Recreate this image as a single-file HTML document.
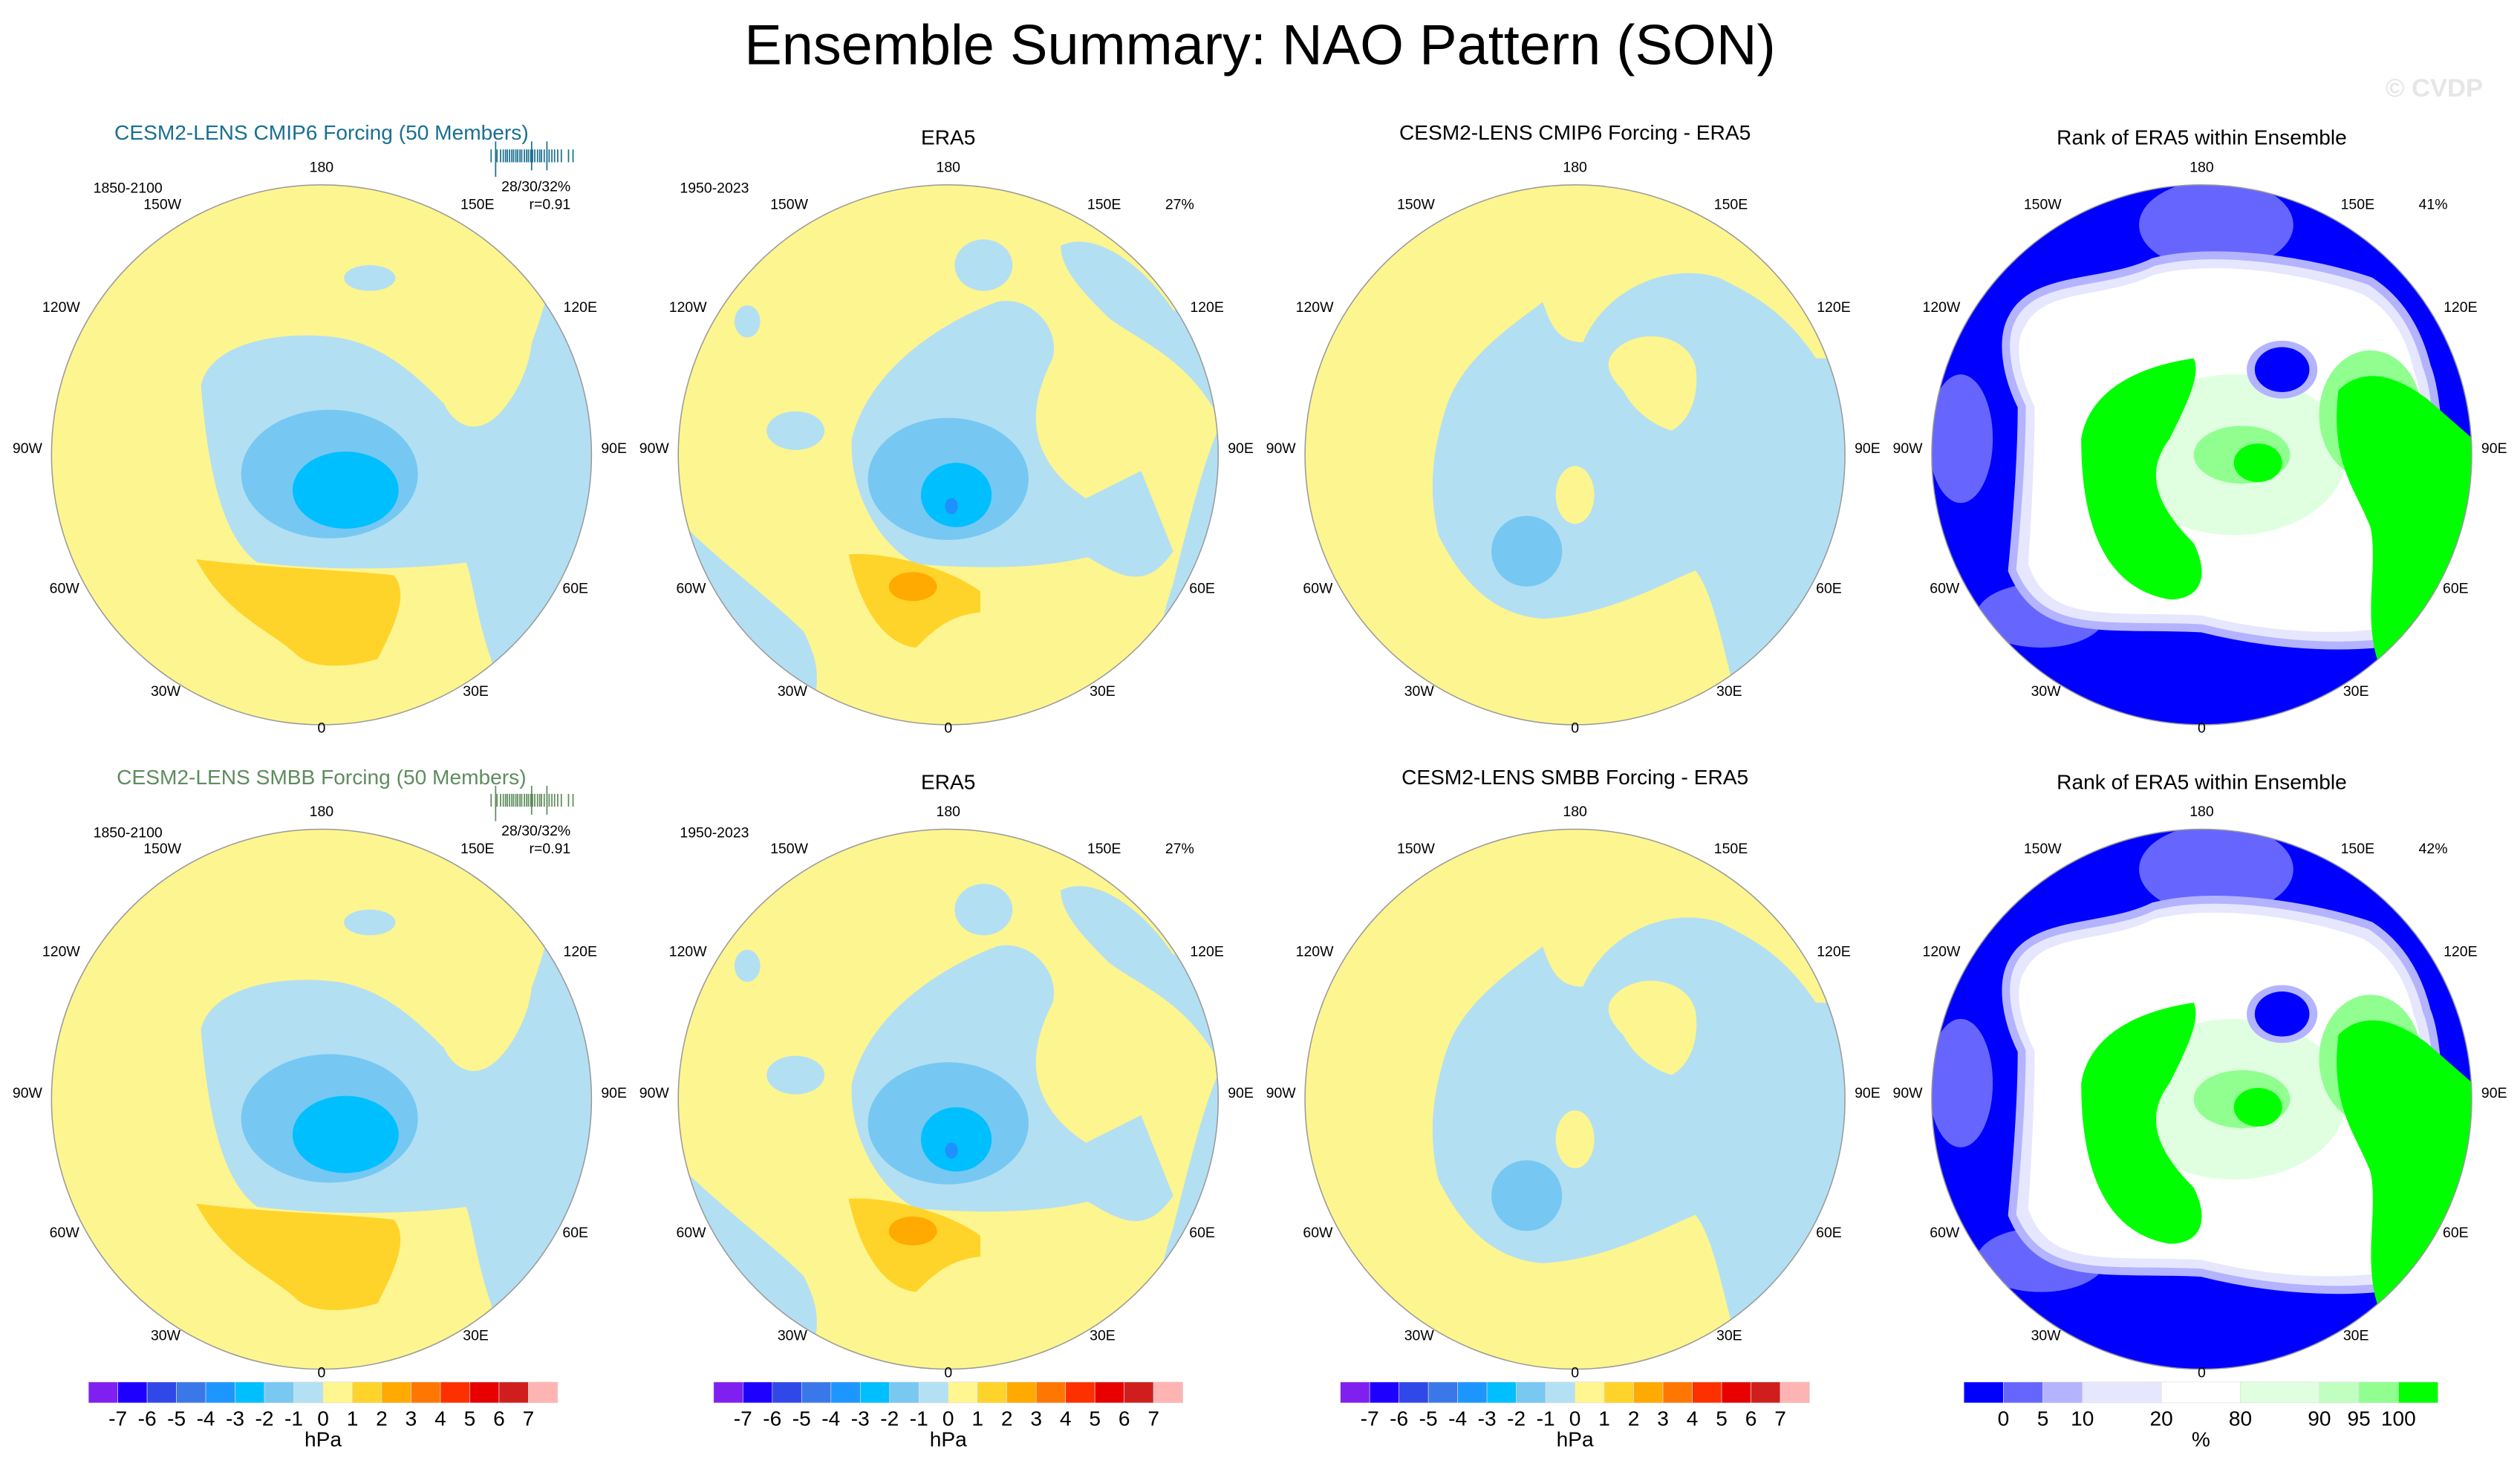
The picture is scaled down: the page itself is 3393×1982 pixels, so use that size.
<!DOCTYPE html>
<html><head><meta charset="utf-8"><style>
html,body{margin:0;padding:0;background:#fff;}
svg{display:block;font-family:"Liberation Sans",sans-serif;}
</style></head><body>
<svg id="fig" width="3393" height="1982" viewBox="0 0 1568 916" xmlns="http://www.w3.org/2000/svg">
<defs>
<clipPath id="cc"><circle cx="0" cy="0" r="168"/></clipPath>
<g id="f1" clip-path="url(#cc)">
  <circle r="168" fill="#fdf58f"/>
  <path fill="#b3dff3" d="M-75,-43 C-70,-68 -30,-78 10,-73 C40,-68 60,-48 75,-33 C85,-25 100,-28 115,-38 C125,-50 135,-80 140,-98 L200,-98 L200,200 L110,140 C95,100 95,80 90,67 C50,72 0,72 -40,67 C-60,52 -70,17 -75,-43 Z"/>
  <path fill="#fdf58f" d="M65,-60 C75,-90 110,-95 130,-85 C135,-60 120,-35 110,-25 C95,-10 80,-20 75,-35 Z"/>
  <ellipse cx="30" cy="-110" rx="16" ry="8" fill="#b3dff3"/>
  <ellipse cx="5" cy="12" rx="55" ry="40" fill="#76c8f2"/>
  <ellipse cx="15" cy="22" rx="33" ry="24" fill="#00bfff"/>
  <path fill="#ffd42a" d="M-78,65 C-40,70 20,72 45,75 C55,87 45,107 35,127 C15,133 -5,133 -15,125 C-30,110 -60,100 -78,65 Z"/>
</g>
<g id="f2" clip-path="url(#cc)">
  <circle r="168" fill="#fdf58f"/>
  <path fill="#b3dff3" d="M-60,-10 C-50,-50 -10,-80 30,-95 C50,-100 70,-80 65,-60 C55,-40 50,-20 60,0 C70,20 90,30 100,35 L100,60 C70,70 30,72 -20,68 C-45,55 -62,20 -60,-10Z"/>
  <path fill="#b3dff3" d="M70,-130 C90,-140 120,-120 140,-90 L200,-90 L200,200 L150,200 C120,150 130,110 140,80 C150,40 160,0 170,-20 C150,-60 120,-70 100,-85 C85,-100 70,-115 70,-130Z"/>
  <path fill="#b3dff3" d="M60,40 C80,30 100,20 120,10 L140,60 C120,90 100,70 80,60Z"/>
  <ellipse cx="22" cy="-118" rx="18" ry="16" fill="#b3dff3"/>
  <ellipse cx="-125" cy="-83" rx="8" ry="10" fill="#b3dff3"/>
  <ellipse cx="-95" cy="-15" rx="18" ry="12" fill="#b3dff3"/>
  <path fill="#b3dff3" d="M-168,40 C-150,60 -110,90 -90,110 C-80,130 -80,140 -85,160 L-120,150 C-140,100 -165,80 -168,40Z"/>
  <ellipse cx="0" cy="15" rx="50" ry="38" fill="#76c8f2"/>
  <ellipse cx="5" cy="25" rx="22" ry="20" fill="#00bfff"/>
  <ellipse cx="2" cy="32" rx="4" ry="5" fill="#1e90ff"/>
  <path fill="#ffd42a" d="M-62,62 C-40,60 0,70 20,85 L20,98 C0,100 -10,110 -20,120 C-40,118 -55,95 -62,62Z"/>
  <ellipse cx="-22" cy="82" rx="15" ry="9" fill="#ffaa00"/>
</g>
<g id="f3" clip-path="url(#cc)">
  <circle r="168" fill="#fdf58f"/>
  <path fill="#b3dff3" d="M-80,-30 C-70,-60 -40,-80 -20,-95 C-15,-80 -10,-70 5,-70 C20,-105 60,-120 90,-110 C110,-100 130,-90 150,-60 L200,-60 L200,200 L100,150 C90,110 85,85 75,72 C55,80 20,100 -20,102 C-50,100 -70,80 -85,50 C-92,20 -88,-5 -80,-30Z"/>
  <ellipse cx="0" cy="25" rx="12" ry="18" fill="#fdf58f"/>
  <path fill="#fdf58f" d="M25,-65 C40,-80 70,-75 75,-55 C78,-35 70,-20 60,-15 C45,-20 35,-30 30,-40 C20,-50 18,-58 25,-65Z"/>
  <ellipse cx="-30" cy="60" rx="22" ry="22" fill="#76c8f2"/>
</g>
<g id="f4" clip-path="url(#cc)">
  <circle r="168" fill="#0000ff"/>
  <ellipse cx="9" cy="-143" rx="48" ry="28" fill="#6666ff"/>
  <ellipse cx="-150" cy="-10" rx="20" ry="40" fill="#6666ff"/>
  <ellipse cx="-100" cy="100" rx="40" ry="20" fill="#6666ff"/>
  <path fill="#e6e6ff" stroke="#b3b3ff" stroke-width="5" d="M-118,-85 C-105,-112 -60,-105 -30,-120 C10,-130 70,-120 105,-108 C125,-95 135,-75 140,-55 C150,-30 150,40 140,70 L150,110 C100,125 40,118 0,108 C-60,105 -100,115 -118,72 C-115,40 -112,0 -112,-30 C-122,-50 -125,-72 -118,-85Z"/>
  <path fill="#ffffff" d="M-110,-80 C-98,-104 -60,-97 -30,-112 C10,-122 68,-112 100,-100 C118,-90 128,-72 132,-52 C142,-28 142,40 132,66 L140,102 C95,116 40,110 0,100 C-58,97 -95,106 -108,68 C-106,40 -104,0 -104,-30 C-114,-50 -117,-70 -110,-80Z"/>
  <ellipse cx="20" cy="0" rx="70" ry="50" fill="#e0ffe0"/>
  <ellipse cx="25" cy="0" rx="30" ry="18" fill="#90ff90"/>
  <ellipse cx="105" cy="-25" rx="32" ry="40" fill="#90ff90"/>
  <path fill="#00ff00" d="M-75,-10 C-70,-40 -40,-55 -5,-60 C0,-50 -10,-30 -20,-10 C-35,10 -30,30 -5,55 C5,75 0,90 -20,90 C-50,85 -75,60 -75,-10Z"/>
  <path fill="#00ff00" d="M85,-40 C100,-55 120,-50 140,-35 L180,0 L180,120 L110,130 C100,100 110,70 105,45 C95,20 80,5 85,-40Z"/>
  <ellipse cx="35" cy="5" rx="15" ry="12" fill="#00ff00"/>
  <ellipse cx="50" cy="-53" rx="22" ry="18" fill="#b3b3ff"/>
  <ellipse cx="50" cy="-53" rx="17" ry="14" fill="#0000ff"/>
</g>
<g id="lab" font-size="9" text-anchor="middle" fill="#000">
  <text x="0" y="-176">180</text>
  <text x="-99" y="-153">150W</text><text x="97" y="-153">150E</text>
  <text x="-162" y="-89">120W</text><text x="161" y="-89">120E</text>
  <text x="-183" y="-1">90W</text><text x="182" y="-1">90E</text>
  <text x="-160" y="86">60W</text><text x="158" y="86">60E</text>
  <text x="-97" y="150">30W</text><text x="96" y="150">30E</text>
  <text x="0" y="173">0</text>
</g>
</defs>

<text x="784" y="40" font-size="35" text-anchor="middle">Ensemble Summary: NAO Pattern (SON)</text>
<text x="1545" y="60" font-size="16" font-weight="bold" fill="#e6e6e6" text-anchor="end">© CVDP</text>

<g transform="translate(200,283)">
  <use href="#f1"/><circle r="168" fill="none" stroke="#999" stroke-width="0.7"/><use href="#lab"/>
  <text x="0" y="-196" font-size="13" fill="#1a6f90" text-anchor="middle">CESM2-LENS CMIP6 Forcing (50 Members)</text>
  <text x="-142" y="-163" font-size="9">1850-2100</text>
  <text x="155" y="-164" font-size="9" text-anchor="end">28/30/32%</text>
  <text x="155" y="-153" font-size="9" text-anchor="end">r=0.91</text>
  <g id="ticks1" stroke="#1a6f90" stroke-width="0.8"></g>
</g>
<g transform="translate(590,283)">
  <use href="#f2"/><circle r="168" fill="none" stroke="#999" stroke-width="0.7"/><use href="#lab"/>
  <text x="0" y="-193" font-size="13" text-anchor="middle">ERA5</text>
  <text x="-167" y="-163" font-size="9">1950-2023</text>
  <text x="144" y="-153" font-size="9" text-anchor="middle">27%</text>
</g>
<g transform="translate(980,283)">
  <use href="#f3"/><circle r="168" fill="none" stroke="#999" stroke-width="0.7"/><use href="#lab"/>
  <text x="0" y="-196" font-size="13" text-anchor="middle">CESM2-LENS CMIP6 Forcing - ERA5</text>
</g>
<g transform="translate(1370,283)">
  <use href="#f4"/><circle r="168" fill="none" stroke="#999" stroke-width="0.7"/><use href="#lab"/>
  <text x="0" y="-193" font-size="13" text-anchor="middle">Rank of ERA5 within Ensemble</text>
  <text x="144" y="-153" font-size="9" text-anchor="middle">41%</text>
</g>

<g transform="translate(200,684)">
  <use href="#f1"/><circle r="168" fill="none" stroke="#999" stroke-width="0.7"/><use href="#lab"/>
  <text x="0" y="-196" font-size="13" fill="#5e8c5e" text-anchor="middle">CESM2-LENS SMBB Forcing (50 Members)</text>
  <text x="-142" y="-163" font-size="9">1850-2100</text>
  <text x="155" y="-164" font-size="9" text-anchor="end">28/30/32%</text>
  <text x="155" y="-153" font-size="9" text-anchor="end">r=0.91</text>
  <g id="ticks2" stroke="#5e8c5e" stroke-width="0.8"></g>
</g>
<g transform="translate(590,684)">
  <use href="#f2"/><circle r="168" fill="none" stroke="#999" stroke-width="0.7"/><use href="#lab"/>
  <text x="0" y="-193" font-size="13" text-anchor="middle">ERA5</text>
  <text x="-167" y="-163" font-size="9">1950-2023</text>
  <text x="144" y="-153" font-size="9" text-anchor="middle">27%</text>
</g>
<g transform="translate(980,684)">
  <use href="#f3"/><circle r="168" fill="none" stroke="#999" stroke-width="0.7"/><use href="#lab"/>
  <text x="0" y="-196" font-size="13" text-anchor="middle">CESM2-LENS SMBB Forcing - ERA5</text>
</g>
<g transform="translate(1370,684)">
  <use href="#f4"/><circle r="168" fill="none" stroke="#999" stroke-width="0.7"/><use href="#lab"/>
  <text x="0" y="-193" font-size="13" text-anchor="middle">Rank of ERA5 within Ensemble</text>
  <text x="144" y="-153" font-size="9" text-anchor="middle">42%</text>
</g>

<g id="cbars"></g>
</svg>
<script>
const hpaLabels = ["-7","-6","-5","-4","-3","-2","-1","0","1","2","3","4","5","6","7"];
const hpaColors = ["#8020f0","#1e00ff","#3048e8","#3a78ea","#1e96ff","#00bfff","#78c8f2","#b4e0f4","#fff68f","#ffd42a","#ffaa00","#ff7700","#ff3000","#e80000","#d01e1e","#ffb4b4"];
const rankLabels = ["0","5","10","20","80","90","95","100"];
const rankColors = ["#0000ff","#6666ff","#b3b3ff","#e6e6ff","#ffffff","#e0ffe0","#c0ffc0","#90ff90","#00ff00"];
const rankWidths = [1,1,1,2,2,2,1,1,1];
const memberTicks = [0.2,1.5,2.3,2.9,3.4,3.8,4.3,4.8,5.2,5.7,6.1,6.6,7.0,7.6,8.1,8.5,9.0,9.4,9.9,10.5,11.0,11.4,12.0,12.6,13.1,13.7,14.3,15.0,15.8,17.4,18.4];
const memberEns = [1.2, 9.2, 12.6];

const NS = "http://www.w3.org/2000/svg";
function mk(tag, attrs, parent){ const e=document.createElementNS(NS,tag); for(const k in attrs) e.setAttribute(k,attrs[k]); parent.appendChild(e); return e; }

function drawTicks(id){
  const g=document.getElementById(id);
  const x0=105, sx=2.8, y0=-190;
  memberTicks.forEach(v=>{
    const l=mk('line',{x1:x0+v*sx,x2:x0+v*sx,y1:y0,y2:y0+8},g);
    
    
  });
  memberEns.forEach((v,i)=>{
    const l=mk('line',{x1:x0+v*sx,x2:x0+v*sx,y1:y0-5,y2:y0+(i==0?17:13)},g);
    
    
  });
}
drawTicks('ticks1'); drawTicks('ticks2');

const cb=document.getElementById('cbars');
function hpaBar(x0){
  const g=mk('g',{},cb);
  
  
  const w=292/hpaColors.length;
  hpaColors.forEach((c,i)=>{
    const r=mk('rect',{x:x0+i*w,y:860,width:w,height:13,fill:c,stroke:'#ddd','stroke-width':0.3},g);
    
    
  });
  hpaLabels.forEach((t,i)=>{
    const e=mk('text',{x:x0+(i+1)*w,y:887,'font-size':13,'text-anchor':'middle'},g); e.textContent=t;
    
    
  });
  const u=mk('text',{x:x0+146,y:900,'font-size':13,'text-anchor':'middle'},g); u.textContent='hPa';
  
  
}
hpaBar(55); hpaBar(444); hpaBar(834);
(function(){
  const x0=1222, W=295, tot=rankWidths.reduce((a,b)=>a+b,0);
  const g=mk('g',{},cb);
  
  
  let x=x0; const edges=[];
  rankColors.forEach((c,i)=>{
    const w=rankWidths[i]*W/tot;
    const r=mk('rect',{x:x,y:860,width:w,height:13,fill:c,stroke:'#ddd','stroke-width':0.3},g);
    
    
    x+=w; edges.push(x);
  });
  rankLabels.forEach((t,i)=>{
    const e=mk('text',{x:edges[i],y:887,'font-size':13,'text-anchor':'middle'},g); e.textContent=t;
    
    
  });
  const u=mk('text',{x:x0+W/2,y:900,'font-size':13,'text-anchor':'middle'},g); u.textContent='%';
  
  
})();
</script>
</body></html>
